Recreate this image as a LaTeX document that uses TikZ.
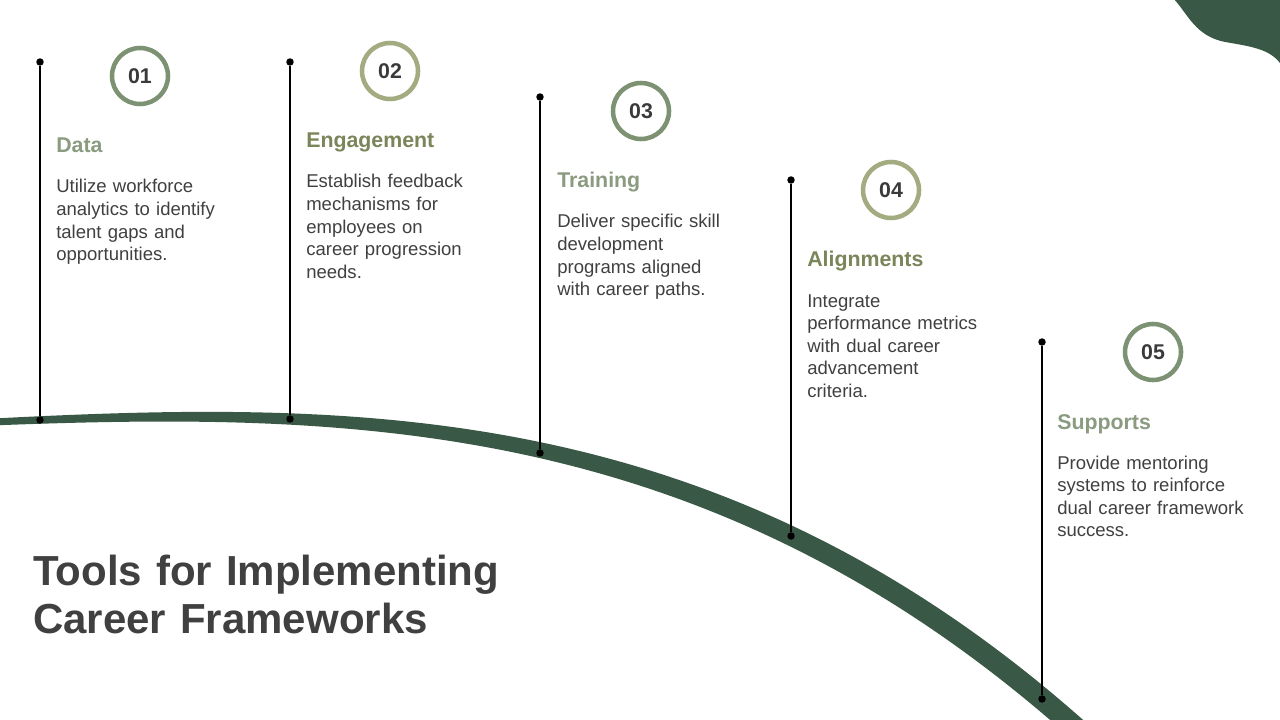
\documentclass[tikz,border=0pt]{standalone}
\usepackage{fontspec}
\setmainfont{Liberation Sans}
\definecolor{dkgreen}{HTML}{3A5846}
\definecolor{sagering}{HTML}{7D9173}
\definecolor{olivering}{HTML}{A3AB80}
\definecolor{sagehead}{HTML}{8A9B80}
\definecolor{olivehead}{HTML}{7A855A}
\definecolor{bodygrey}{HTML}{404040}
\tikzset{
  dotnode/.style={circle,fill=black,inner sep=0pt,minimum size=5.6pt},
  vline/.style={draw=black,line width=0.8pt},
  ringnode/.style={circle,draw=#1,line width=3.4pt,minimum size=42pt,inner sep=0pt,
     font=\fontsize{16pt}{19pt}\selectfont\bfseries,text=bodygrey!90!black},
  headnode/.style={anchor=base west,inner sep=0pt,font=\fontsize{16pt}{19pt}\selectfont\bfseries,text=#1},
  bodynode/.style={anchor=base west,inner sep=0pt,text width=190pt,align=left,
     font=\fontsize{13.9pt}{16.9pt}\selectfont,text=bodygrey},
  titlenode/.style={anchor=base west,inner sep=0pt,text width=500pt,align=left,
     font=\fontsize{31.5pt}{36pt}\selectfont\bfseries,text=bodygrey}
}
\begin{document}
\begin{tikzpicture}[x=0.75pt,y=-0.75pt]
\useasboundingbox (0,0) rectangle (1280,720);
\fill[white] (0,0) rectangle (1280,720);
\begin{scope}
\clip (0,0) rectangle (1280,720);
% top-right blob
\fill[dkgreen] (1173,-2) .. controls (1188,14) and (1195,36) .. (1225,42)
   .. controls (1255,47) and (1272,50) .. (1282,66) -- (1282,-2) -- cycle;
% curved band
\fill[dkgreen] (-10,418.67) .. controls (363.33,399.50) and (736.67,397.41) .. (1110,744.33)
  -- (1110,774.38) .. controls (736.67,416.81) and (363.33,411.17) .. (-10,425.54) -- cycle;
\end{scope}

% dots and vertical lines
\node[dotnode] (t1) at (40,62) {};
\node[dotnode] (b1) at (40,420) {};
\node[dotnode] (t2) at (290,62) {};
\node[dotnode] (b2) at (290,419) {};
\node[dotnode] (t3) at (540,97) {};
\node[dotnode] (b3) at (540,453) {};
\node[dotnode] (t4) at (791,180) {};
\node[dotnode] (b4) at (791,536) {};
\node[dotnode] (t5) at (1042,342) {};
\node[dotnode] (b5) at (1042,699) {};
\draw[vline] (t1) -- (b1);
\draw[vline] (t2) -- (b2);
\draw[vline] (t3) -- (b3);
\draw[vline] (t4) -- (b4);
\draw[vline] (t5) -- (b5);

% rings
\node[ringnode=sagering] (r1) at (140,76) {01};
\node[ringnode=olivering] (r2) at (390,71) {02};
\node[ringnode=sagering] (r3) at (641,111) {03};
\node[ringnode=olivering] (r4) at (891,190) {04};
\node[ringnode=sagering] (r5) at (1153,352) {05};

% headings
\node[headnode=sagehead] (h1) at (56,153) {Data};
\node[headnode=olivehead] (h2) at (306,148) {Engagement};
\node[headnode=sagehead] (h3) at (557,188) {Training};
\node[headnode=olivehead] (h4) at (807,267) {Alignments};
\node[headnode=sagehead] (h5) at (1057,429) {Supports};

% bodies
\node[bodynode] (d1) at (56,193) {Utilize workforce\\analytics to identify\\talent gaps and\\opportunities.};
\node[bodynode] (d2) at (306,188) {Establish feedback\\mechanisms for\\employees on\\career progression\\needs.};
\node[bodynode] (d3) at (557,228) {Deliver specific skill\\development\\programs aligned\\with career paths.};
\node[bodynode] (d4) at (807,307) {Integrate\\performance metrics\\with dual career\\advancement\\criteria.};
\node[bodynode] (d5) at (1057,469) {Provide mentoring\\systems to reinforce\\dual career framework\\success.};

% title
\node[titlenode] (title) at (33,585) {Tools for Implementing\\Career Frameworks};
\end{tikzpicture}
\end{document}
